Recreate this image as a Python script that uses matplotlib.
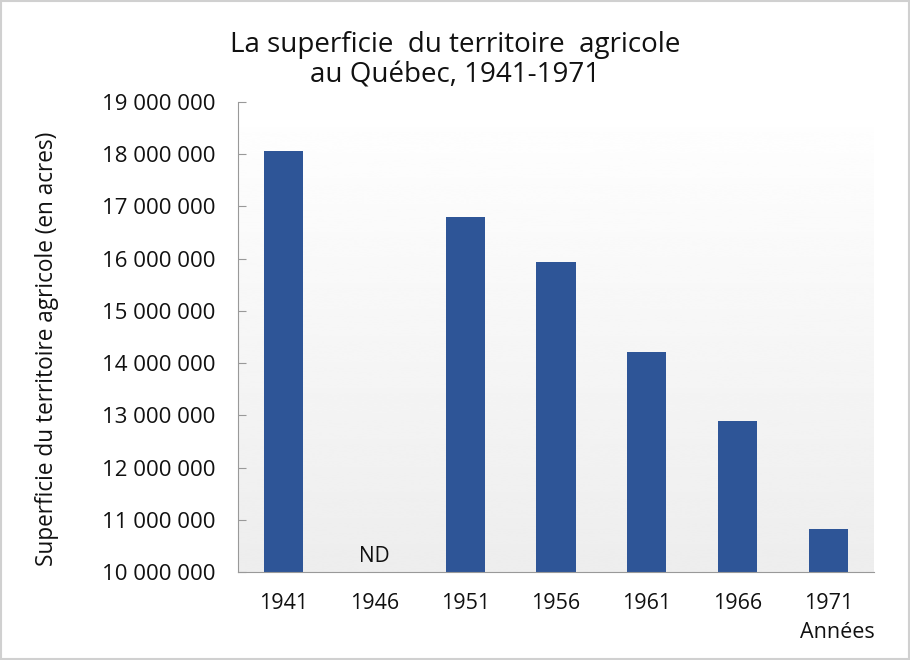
import matplotlib
matplotlib.use("Agg")
import matplotlib.pyplot as plt
import numpy as np
from matplotlib.patches import Rectangle

years = ["1941", "1946", "1951", "1956", "1961", "1966", "1971"]
values = [18070000, None, 16790000, 15930000, 14210000, 12900000, 10820000]
yticks = [10000000, 11000000, 12000000, 13000000, 14000000, 15000000,
          16000000, 17000000, 18000000, 19000000]
ytick_labels = [f"{v:,}".replace(",", " ") for v in yticks]

plt.rcParams['font.family'] = ['Open Sans', 'DejaVu Sans']

fig = plt.figure(figsize=(9.1, 6.6), dpi=100)
fig.patch.set_facecolor("white")
ax = fig.add_axes([238/910, 1-572/660, (874-238)/910, (572-102)/660])

# gradient background
grad = np.linspace(1.0, 0.93, 256).reshape(-1, 1)
ax.imshow(grad, cmap="gray", vmin=0, vmax=1, aspect="auto",
          extent=[0, 1, 0, 1], transform=ax.transAxes, zorder=0,
          interpolation="bicubic")

x = np.arange(len(years))
for i, v in enumerate(values):
    if v is not None:
        ax.bar(x[i], v - 10000000, bottom=10000000, width=0.43,
               color="#2e5597", zorder=2)
    else:
        ax.text(x[i], 10100000, "ND", ha="center", va="bottom", fontsize=15,
                color="#111111")

ax.set_xlim(-0.5, 6.5)
ax.set_ylim(10000000, 19000000)
ax.set_yticks(yticks)
ax.set_yticklabels(ytick_labels, fontsize=16, color="#111111")
ax.set_xticks(x)
ax.set_xticklabels(years, fontsize=15.5, color="#111111")
ax.tick_params(axis="x", length=0, pad=15)
ax.tick_params(axis="y", direction="in", length=6, color="#999999", pad=16.5)
for s in ["top", "right"]:
    ax.spines[s].set_visible(False)
ax.spines["left"].set_color("#999999")
ax.spines["bottom"].set_color("#999999")

fig.text(47/910, 1-349/660, "Superficie du territoire agricole (en acres)",
         rotation=90, ha="center", va="center", fontsize=16.3, color="#111111")
fig.text(875/910, 1-633/660, "Années", ha="right", va="center", fontsize=15.5,
         color="#111111")
fig.text(455/910, 1-60/660, "La superficie  du territoire  agricole\nau Québec, 1941-1971",
         ha="center", va="center", fontsize=20, color="#111111", linespacing=1.1)

fig.add_artist(Rectangle((0.001, 0.001), 0.998, 0.998, transform=fig.transFigure,
                         fill=False, edgecolor="#d0d0d0", linewidth=1.5))

fig.savefig("out.png", dpi=100)
